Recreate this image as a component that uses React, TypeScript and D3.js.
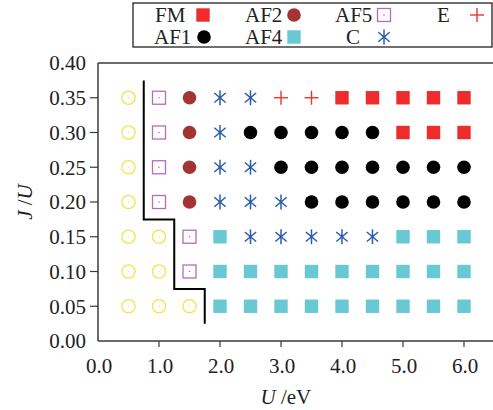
import React from "react";
import * as d3 from "d3";

// Grid of calculated points: U (eV) along x, J/U along y
const uValues = [0.5, 1.0, 1.5, 2.0, 2.5, 3.0, 3.5, 4.0, 4.5, 5.0, 5.5, 6.0];
const jValues = [0.35, 0.3, 0.25, 0.2, 0.15, 0.1, 0.05];

// Magnetic ground state for each (J/U, U) point, one row per J/U value
const phaseRows = [
  ["PM", "AF5", "AF2", "C", "C", "E", "E", "FM", "FM", "FM", "FM", "FM"],
  ["PM", "AF5", "AF2", "C", "AF1", "AF1", "AF1", "AF1", "AF1", "FM", "FM", "FM"],
  ["PM", "AF5", "AF2", "C", "C", "AF1", "AF1", "AF1", "AF1", "AF1", "AF1", "AF1"],
  ["PM", "AF5", "AF2", "C", "C", "C", "AF1", "AF1", "AF1", "AF1", "AF1", "AF1"],
  ["PM", "PM", "AF5", "AF4", "C", "C", "C", "C", "C", "AF4", "AF4", "AF4"],
  ["PM", "PM", "AF5", "AF4", "AF4", "AF4", "AF4", "AF4", "AF4", "AF4", "AF4", "AF4"],
  ["PM", "PM", "PM", "AF4", "AF4", "AF4", "AF4", "AF4", "AF4", "AF4", "AF4", "AF4"],
];

// Staircase phase boundary (U, J/U)
const boundaryU = [0.75, 0.75, 1.25, 1.25, 1.75, 1.75];
const boundaryJ = [0.375, 0.175, 0.175, 0.075, 0.075, 0.025];

const xTicks = [0, 1, 2, 3, 4, 5, 6];
const yTicks = [0, 0.05, 0.1, 0.15, 0.2, 0.25, 0.3, 0.35, 0.4];

// Legend entries: row, text start, marker centre
const legendPhases = ["FM", "AF2", "AF5", "E", "AF1", "AF4", "C"];
const legendRow = [0, 0, 0, 0, 1, 1, 1];
const legendTextX = [155, 245, 335, 437, 154, 245, 346];
const legendMarkX = [203, 294, 384, 477, 204, 294, 384];

const colors: Record<string, string> = {
  FM: "#ee2c2c",
  AF1: "#000000",
  AF2: "#a33434",
  AF4: "#68c9d5",
  AF5: "#b46dbb",
  C: "#2b5cae",
  E: "#ee3333",
  PM: "#eee648",
};

const W = 493;
const H = 410;
const FONT = '"Liberation Serif", "DejaVu Serif", serif';

function Marker({ phase, x, y }: { phase: string; x: number; y: number }) {
  const c = colors[phase];
  switch (phase) {
    case "FM":
    case "AF4":
      return <rect x={x - 6.7} y={y - 6.7} width={13.4} height={13.4} fill={c} />;
    case "AF1":
    case "AF2":
      return <circle cx={x} cy={y} r={6.8} fill={c} />;
    case "AF5":
      return (
        <g>
          <rect x={x - 6.5} y={y - 6.5} width={13} height={13} fill="none" stroke={c} strokeWidth={1.3} />
          <circle cx={x} cy={y} r={0.8} fill={c} />
        </g>
      );
    case "PM":
      return (
        <g>
          <circle cx={x} cy={y} r={6.6} fill="none" stroke={c} strokeWidth={1.3} />
          <circle cx={x} cy={y} r={0.7} fill={c} />
        </g>
      );
    case "E":
      return (
        <g stroke={c} strokeWidth={1.4}>
          <line x1={x - 7} x2={x + 7} y1={y} y2={y} />
          <line x1={x} x2={x} y1={y - 7} y2={y + 7} />
        </g>
      );
    case "C": {
      const r = 7.4;
      const angles = [90, 40, -40];
      return (
        <g stroke={c} strokeWidth={1.5}>
          {angles.map((a) => {
            const rad = (a * Math.PI) / 180;
            const dx = r * Math.cos(rad);
            const dy = r * Math.sin(rad);
            return <line key={a} x1={x - dx} y1={y - dy} x2={x + dx} y2={y + dy} />;
          })}
          <circle cx={x} cy={y} r={1.4} fill={c} stroke="none" />
        </g>
      );
    }
    default:
      return null;
  }
}

export default function App() {
  const x = d3.scaleLinear().domain([0, 6.5]).range([98, 494.5]);
  const y = d3.scaleLinear().domain([0, 0.4]).range([341, 63]);

  const boundary = d3
    .line<number>()
    .x((_, i) => x(boundaryU[i]))
    .y((_, i) => y(boundaryJ[i]));

  const axisColor = "#3a3a3a";
  const textStyle = { fontFamily: FONT };

  return (
    <svg
      width={W}
      height={H}
      style={{ position: "absolute", left: 0, top: 0, background: "#fff", fontFamily: FONT }}
    >
      {/* legend */}
      <rect x={133} y={3} width={359} height={44} fill="#fff" stroke="#222" strokeWidth={1.3} />
      {legendPhases.map((p, i) => {
        const cy = legendRow[i] === 0 ? 15 : 37;
        return (
          <g key={p}>
            <text x={legendTextX[i]} y={cy + 7} fontSize={21} fill="#222" style={textStyle}>
              {p}
            </text>
            <Marker phase={p} x={legendMarkX[i]} y={cy} />
          </g>
        );
      })}

      {/* frame */}
      <g stroke={axisColor} strokeWidth={1.5} fill="none">
        <line x1={x(0)} x2={W} y1={y(0.4)} y2={y(0.4)} />
        <line x1={x(0)} x2={W} y1={y(0)} y2={y(0)} />
        <line x1={x(0)} x2={x(0)} y1={y(0.4)} y2={y(0)} />
      </g>

      {/* y axis */}
      {yTicks.map((t) => (
        <g key={t}>
          {t > 0 && t < 0.4 && (
            <line x1={x(0) - 8} x2={x(0)} y1={y(t)} y2={y(t)} stroke={axisColor} strokeWidth={1.2} />
          )}
          <text x={86} y={y(t)} dy="0.35em" textAnchor="end" fontSize={21} fill="#222" style={textStyle}>
            {t.toFixed(2)}
          </text>
        </g>
      ))}

      {/* x axis */}
      {xTicks.map((t) => (
        <g key={t}>
          {t > 0 && (
            <line x1={x(t)} x2={x(t)} y1={y(0)} y2={y(0) + 6} stroke={axisColor} strokeWidth={1.2} />
          )}
          <text x={x(t) + 1} y={373} textAnchor="middle" fontSize={21} fill="#222" style={textStyle}>
            {t.toFixed(1)}
          </text>
        </g>
      ))}

      {/* axis titles */}
      <text x={x(3.08)} y={404} textAnchor="middle" fontSize={21} fill="#222" style={textStyle}>
        <tspan fontStyle="italic">U</tspan>
        <tspan> /eV</tspan>
      </text>
      <text
        transform={`translate(32, ${y(0.2)}) rotate(-90)`}
        textAnchor="middle"
        fontSize={21}
        fill="#222"
        style={textStyle}
      >
        <tspan fontStyle="italic">J</tspan>
        <tspan> /</tspan>
        <tspan fontStyle="italic">U</tspan>
      </text>

      {/* phase points */}
      {phaseRows.map((row, ri) =>
        row.map((p, ci) => (
          <Marker key={`${ri}-${ci}`} phase={p} x={x(uValues[ci])} y={y(jValues[ri])} />
        ))
      )}

      {/* phase boundary */}
      <path d={boundary(boundaryU) ?? ""} fill="none" stroke="#000" strokeWidth={2} />
    </svg>
  );
}
